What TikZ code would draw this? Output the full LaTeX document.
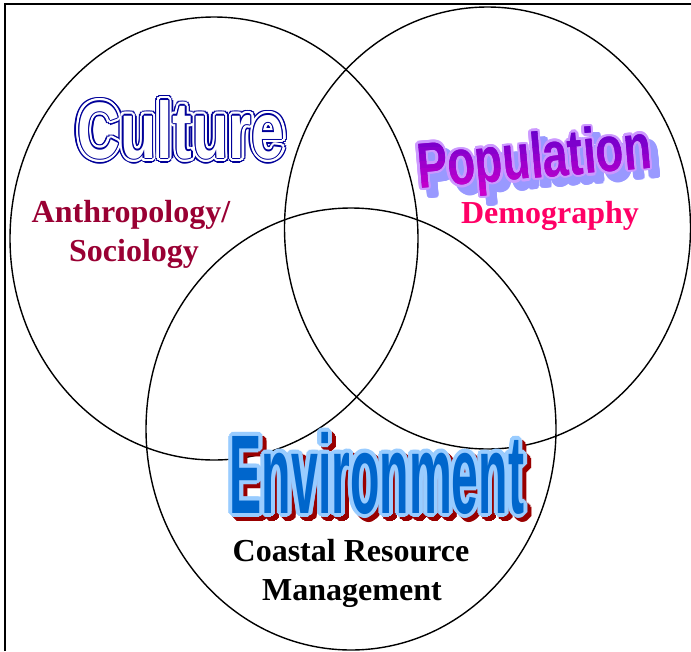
\documentclass[tikz,border=0pt]{standalone}
\usepackage{fontspec}
\usepackage{graphicx}
\usetikzlibrary{shapes.geometric}
\setmainfont{Liberation Serif}
\newfontfamily\artfont{Liberation Sans}
\definecolor{cblue}{RGB}{0,0,153}
\definecolor{anthro}{RGB}{153,0,51}
\definecolor{demo}{RGB}{255,0,102}
\definecolor{poptop}{RGB}{102,0,204}
\definecolor{popmid}{RGB}{150,0,204}
\definecolor{popbot}{RGB}{204,0,204}
\definecolor{popline}{RGB}{204,153,255}
\definecolor{popshadow}{RGB}{153,153,255}
\definecolor{envfill}{RGB}{0,102,204}
\definecolor{envline}{RGB}{153,204,255}
\definecolor{envshadow}{RGB}{153,0,0}
\newcommand\culturetext{\fontsize{80}{80}\selectfont\artfont\bfseries\scalebox{0.74}[1]{Culture}}
\newcommand\poptext{\fontsize{64}{64}\selectfont\artfont\bfseries\scalebox{0.71}[1]{Population}}
\newcommand\envtext{\fontsize{112}{112}\selectfont\artfont\bfseries\scalebox{0.43}[1]{Environment}}
\begin{document}
\begin{tikzpicture}[x=1pt,y=-1pt,
  circ/.style={draw=black, line width=1.4pt},
  frame/.style={draw=black, line width=2pt},
  lab/.style={font=\fontsize{32}{32}\selectfont\bfseries, anchor=base, inner sep=0pt},
  art/.style={anchor=base, inner sep=0pt}]
\useasboundingbox (0,0) rectangle (691,651);
% frame
\coordinate (fl) at (5,651);
\coordinate (fc) at (5,4);
\coordinate (fr) at (692,4);
\draw[frame] (fl) -- (fc) -- (fr);
% circles
\node[circ, ellipse, minimum width=408pt, minimum height=443pt, inner sep=0pt] (cul) at (214,238.5) {};
\node[circ, ellipse, minimum width=406pt, minimum height=442pt, inner sep=0pt] (pop) at (487.5,228) {};
\node[circ, ellipse, minimum width=410pt, minimum height=442pt, inner sep=0pt] (env) at (351,429) {};
% Culture word art
\foreach \a in {0,22.5,...,337.5}
  \node[art, text=cblue] at ([shift={(\a:5)}]181,158) {\culturetext};
\foreach \a in {0,22.5,...,337.5}
  \node[art, text=white] at ([shift={(\a:3.4)}]181,158) {\culturetext};
\foreach \a in {0,45,...,315}
  \node[art, text=cblue] at ([shift={(\a:1.3)}]181,158) {\culturetext};
\node[art, text=white] (culture) at (181,158) {\culturetext};
% Population word art
\foreach \a in {0,22.5,...,337.5}
  \node[art, rotate=5, text=popshadow] at ([shift={(\a:2.5)}]544,186) {\poptext};
\foreach \a in {0,22.5,...,337.5}
  \node[art, rotate=5, text=popline] at ([shift={(\a:2.5)}]536,178) {\poptext};
\node[art, rotate=5, text=popmid] (population) at (536,178) {\poptext};
\foreach \k in {0,...,9} {
  \pgfmathsetmacro\pc{\k*11.1}
  \begin{scope}
    \clip ([shift={(-150,{-35+7*\k})}]population.center) rectangle ([shift={(150,{-27.6+7*\k})}]population.center);
    \node[art, rotate=5, text=popbot!\pc!poptop] at (536,178) {\poptext};
  \end{scope}
}
% Environment word art
\foreach \a in {0,22.5,...,337.5}
  \node[art, text=envshadow] at ([shift={(\a:4)}]381,517) {\envtext};
\foreach \a in {0,22.5,...,337.5}
  \node[art, text=envline] at ([shift={(\a:4)}]377,513) {\envtext};
\node[art, text=envfill] (environment) at (377,513) {\envtext};
% labels
\node[lab, text=anthro] (anth) at (131,222) {Anthropology/};
\node[lab, text=anthro] (soc) at (134,261) {Sociology};
\node[lab, text=demo] (dem) at (550,223) {Demography};
\node[lab, text=black] (crm1) at (351,561) {Coastal Resource};
\node[lab, text=black] (crm2) at (352,600) {Management};
\end{tikzpicture}
\end{document}
